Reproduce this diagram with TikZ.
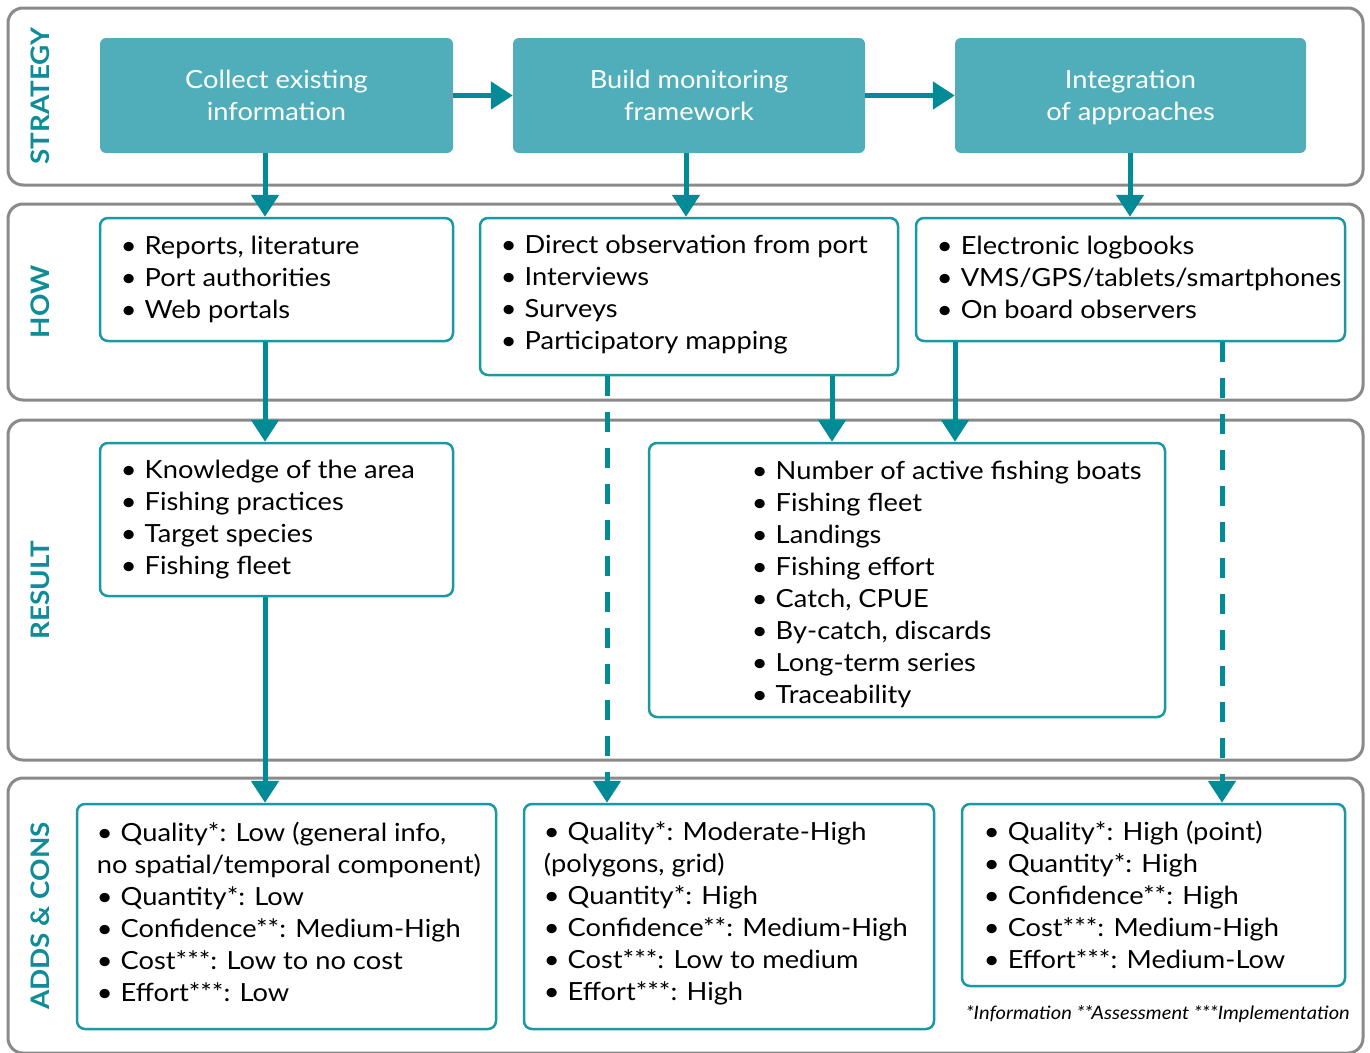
\documentclass[tikz,border=0pt]{standalone}
\usepackage{fontspec}
\setmainfont[FakeStretch=1.09]{Lato}
\usetikzlibrary{arrows.meta,positioning}
\definecolor{stratfill}{HTML}{50AEBB}
\definecolor{arrowteal}{HTML}{008B96}
\definecolor{boxteal}{HTML}{1A98A3}
\definecolor{labelteal}{HTML}{0E8C97}
\definecolor{bandgray}{HTML}{8A8A8A}
\newcommand{\itm}{\textbullet\hspace{8pt}}
\tikzset{
  band/.style={draw=bandgray, line width=3pt, rounded corners=15pt},
  side/.style={rotate=90, text=labelteal, font=\fontsize{25.5}{30}\selectfont\bfseries},
  stratbox/.style={fill=stratfill, rounded corners=6pt, text=white, align=center,
    minimum width=353pt, minimum height=115pt, font=\fontsize{25}{32}\selectfont},
  infobox/.style={draw=boxteal, line width=2.5pt, rounded corners=8pt},
  infotext/.style={align=left, inner sep=0pt, font=\fontsize{25}{32}\selectfont},
  flow/.style={draw=arrowteal, line width=5pt, -{Triangle[length=22pt,width=27pt]}},
  dflow/.style={flow, dash pattern=on 20pt off 16pt}
}
\begin{document}
\begin{tikzpicture}[x=1pt,y=-1pt]
  \useasboundingbox (0,0) rectangle (1370,1052);
  % bands
  \node[band, minimum width=1355pt, minimum height=177pt] (bstrategy) at (685.5,96.5) {};
  \node[band, minimum width=1355pt, minimum height=196pt] (bhow) at (685.5,302) {};
  \node[band, minimum width=1355pt, minimum height=340pt] (bresult) at (685.5,590) {};
  \node[band, minimum width=1355pt, minimum height=275pt] (badds) at (685.5,915.5) {};
  \node[side] (lstrategy) at (40,96) {STRATEGY};
  \node[side] (lhow) at (40,302) {HOW};
  \node[side] (lresult) at (40,590) {RESULT};
  \node[side] (ladds) at (40,916) {ADDS \& CONS};
  % strategy
  \node[stratbox] (collect) at (276.5,95.5) {Collect existing\\information};
  \node[stratbox, minimum width=352pt] (build) at (689,95.5) {Build monitoring\\framework};
  \node[stratbox, minimum width=351pt] (integ) at (1130.5,95.5) {Integration\\\raisebox{0pt}[\height][0pt]{of approaches}};
  % how
  \node[infobox, minimum width=353pt, minimum height=123pt] (how1) at (276.5,279.5) {};
  \node[infobox, minimum width=418pt, minimum height=157pt] (how2) at (689,296.5) {};
  \node[infobox, minimum width=429pt, minimum height=123pt] (how3) at (1130.5,279.5) {};
  \node[infotext, right=22pt of how1.west] (how1t) {\itm Reports, literature\\\itm Port authorities\\\itm Web portals};
  \node[infotext, right=22pt of how2.west, yshift=2pt] (how2t) {\itm Direct observation from port\\\itm Interviews\\\itm Surveys\\\itm Participatory mapping};
  \node[infotext, right=22pt of how3.west, yshift=2pt] (how3t) {\itm Electronic logbooks\\\itm VMS/GPS/tablets/smartphones\\\itm On board observers};
  % result
  \node[infobox, minimum width=353pt, minimum height=153pt] (res1) at (276.5,519.5) {};
  \node[infobox, minimum width=516pt, minimum height=274pt] (res2) at (907,580) {};
  \node[infotext, right=22pt of res1.west] (res1t) {\itm Knowledge of the area\\\itm Fishing practices\\\itm Target species\\\itm Fishing fleet};
  \node[infotext, right=104pt of res2.west, yshift=-4pt] (res2t) {\itm Number of active fishing boats\\\itm Fishing fleet\\\itm Landings\\\itm Fishing effort\\\itm Catch, CPUE\\\itm By-catch, discards\\\itm Long-term series\\\itm Traceability};
  % adds & cons
  \node[infobox, minimum width=419pt, minimum height=225pt] (add1) at (286.5,916.5) {};
  \node[infobox, minimum width=410pt, minimum height=225pt] (add2) at (729,916.5) {};
  \node[infobox, minimum width=383pt, minimum height=182pt] (add3) at (1153.5,895) {};
  \node[infotext, right=21pt of add1.west, yshift=5pt] (add1t) {\itm Quality*: Low (general info,\\no spatial/temporal component)\\\itm Quantity*: Low\\\itm Confidence**: Medium-High\\\itm Cost***: Low to no cost\\\itm Effort***: Low};
  \node[infotext, right=21pt of add2.west, yshift=3pt] (add2t) {\itm Quality*: Moderate-High\\(polygons, grid)\\\itm Quantity*: High\\\itm Confidence**: Medium-High\\\itm Cost***: Low to medium\\\itm Effort***: High};
  \node[infotext, right=23pt of add3.west] (add3t) {\itm Quality*: High (point)\\\itm Quantity*: High\\\itm Confidence**: High\\\itm Cost***: Medium-High\\\itm Effort***: Medium-Low};
  \node[anchor=east, inner sep=0pt, font=\fontsize{18.5}{20}\selectfont\itshape] (notes) at (1350,1014) {*Information **Assessment ***Implementation};
  % connectors
  \coordinate (c1) at (265,0);
  \coordinate (c2) at (686,0);
  \coordinate (c3) at (1130,0);
  \coordinate (c4) at (832,0);
  \coordinate (c5) at (955,0);
  \coordinate (c6) at (607,0);
  \coordinate (c7) at (1222,0);
  \draw[flow] (collect) -- (build);
  \draw[flow] (build) -- (integ);
  \draw[flow] (collect.south -| c1) -- (how1.north -| c1);
  \draw[flow] (build.south -| c2) -- (how2.north -| c2);
  \draw[flow] (integ.south -| c3) -- (how3.north -| c3);
  \draw[flow] (how1.south -| c1) -- (res1.north -| c1);
  \draw[flow] (how2.south -| c4) -- (res2.north -| c4);
  \draw[flow] (how3.south -| c5) -- (res2.north -| c5);
  \draw[flow] (res1.south -| c1) -- (add1.north -| c1);
  \draw[dflow] (how2.south -| c6) -- (add2.north -| c6);
  \draw[dflow] (how3.south -| c7) -- (add3.north -| c7);
\end{tikzpicture}
\end{document}
